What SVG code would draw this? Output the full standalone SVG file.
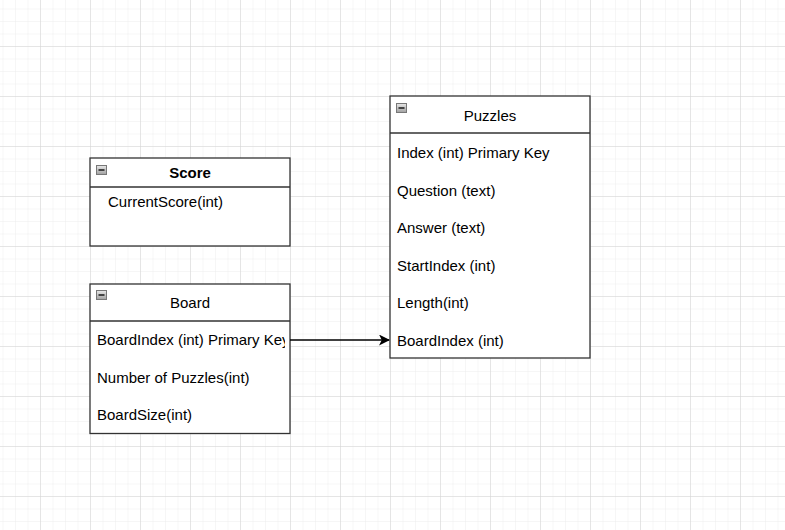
<svg xmlns="http://www.w3.org/2000/svg" width="785" height="530" viewBox="0 0 785 530">
<style>
.box{fill:#fff;stroke:#333;stroke-width:1.3}
.sep{stroke:#333;stroke-width:1.3}
.t{font-family:"Liberation Sans",Arial,sans-serif;font-size:15px;fill:#000}
.h{text-anchor:middle}
.b{font-weight:bold}
.ico{fill:url(#ig);stroke:#777;stroke-width:1}
.minus{stroke:#222;stroke-width:1.6}
.conn{stroke:#000;stroke-width:1.3;fill:none}
</style>
<defs>
<pattern id="minor" patternUnits="userSpaceOnUse" x="2.5" y="8.5" width="12.5" height="12.5">
<path d="M0 0H12.5M0 0V12.5" stroke="#ededed" stroke-width="1" fill="none"/>
</pattern>
<pattern id="major" patternUnits="userSpaceOnUse" x="40" y="46" width="50" height="50">
<path d="M0 0H50M0 0V50" stroke="#d3d3d3" stroke-width="1" fill="none"/>
</pattern>
<linearGradient id="ig" x1="0" y1="0" x2="0" y2="1">
<stop offset="0" stop-color="#e8e8e8"/>
<stop offset="1" stop-color="#a0a0a0"/>
</linearGradient>
<marker id="arr" markerWidth="11" markerHeight="11" refX="10" refY="5.5" orient="auto" markerUnits="userSpaceOnUse">
<path d="M0 0L11 5.5L0 11L2.8 5.5Z" fill="#000"/>
</marker>
<clipPath id="clipBoard"><rect x="91" y="321" width="194" height="112"/></clipPath>
</defs>
<rect width="785" height="530" fill="#fff"/>
<rect width="785" height="530" fill="url(#minor)"/>
<rect width="785" height="530" fill="url(#major)"/>

<g id="score">
<rect class="box" x="90" y="158" width="200" height="88"/>
<line class="sep" x1="90" y1="187" x2="290" y2="187"/>
<rect class="ico" x="96.5" y="165.5" width="10" height="9"/>
<line class="minus" x1="98.5" y1="170" x2="104.5" y2="170"/>
<text class="t h b" x="190" y="178">Score</text>
<text class="t" x="108" y="207">CurrentScore(int)</text>
</g>

<g id="board">
<rect class="box" x="90" y="284" width="200" height="149.5"/>
<line class="sep" x1="90" y1="321" x2="290" y2="321"/>
<rect class="ico" x="96.5" y="290.5" width="10" height="9"/>
<line class="minus" x1="98.5" y1="295" x2="104.5" y2="295"/>
<text class="t h" x="190" y="308">Board</text>
<g clip-path="url(#clipBoard)">
<text class="t" x="97" y="345">BoardIndex (int) Primary Key</text>
</g>
<text class="t" x="97" y="383">Number of Puzzles(int)</text>
<text class="t" x="97" y="420">BoardSize(int)</text>
</g>

<g id="puzzles">
<rect class="box" x="390" y="96" width="200" height="262"/>
<line class="sep" x1="390" y1="133" x2="590" y2="133"/>
<rect class="ico" x="396.5" y="103.5" width="10" height="9"/>
<line class="minus" x1="398.5" y1="108" x2="404.5" y2="108"/>
<text class="t h" x="490" y="121">Puzzles</text>
<text class="t" x="397" y="158">Index (int) Primary Key</text>
<text class="t" x="397" y="195.5">Question (text)</text>
<text class="t" x="397" y="233">Answer (text)</text>
<text class="t" x="397" y="270.5">StartIndex (int)</text>
<text class="t" x="397" y="308">Length(int)</text>
<text class="t" x="397" y="345.5">BoardIndex (int)</text>
</g>

<g id="connectors">
<line class="conn" x1="290" y1="340" x2="389" y2="340" marker-end="url(#arr)"/>
</g>
</svg>
